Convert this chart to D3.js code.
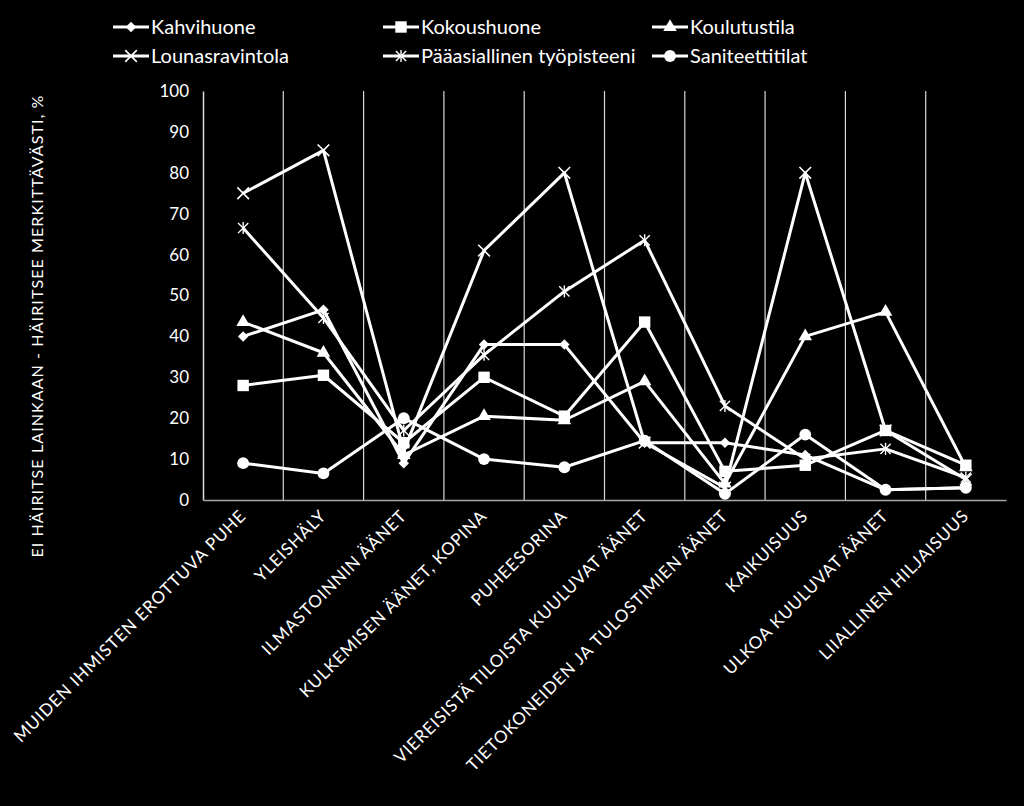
<!DOCTYPE html>
<html><head><meta charset="utf-8">
<script src="https://cdn.jsdelivr.net/npm/d3@7"></script>
<style>
html,body{margin:0;padding:0;background:#000;}
svg{display:block;}
text{font-family:"Lato","Open Sans",sans-serif;fill:#fff;}
</style></head>
<body>
<svg id="c" width="1024" height="806"></svg>
<script>
const categories = ["MUIDEN IHMISTEN EROTTUVA PUHE","YLEISHÄLY","ILMASTOINNIN ÄÄNET","KULKEMISEN ÄÄNET, KOPINA","PUHEESORINA","VIEREISISTÄ TILOISTA KUULUVAT ÄÄNET","TIETOKONEIDEN JA TULOSTIMIEN ÄÄNET","KAIKUISUUS","ULKOA KUULUVAT ÄÄNET","LIIALLINEN HILJAISUUS"];
const seriesNames = ["Kahvihuone","Kokoushuone","Koulutustila","Lounasravintola","Pääasiallinen työpisteeni","Saniteettitilat"];
const kahvihuone = [40, 46.5, 9, 38, 38, 14, 14, 11, 2.5, 3];
const kokoushuone = [28, 30.5, 14, 30, 20.5, 43.5, 7, 8.5, 17, 8.5];
const koulutustila = [43.5, 36, 11, 20.5, 19.5, 29, 4, 40, 46, 8];
const lounasravintola = [75, 85.5, 12, 61, 80, 14, 3, 80, 17, 5];
const tyopiste = [66.5, 44.5, 17, 35.5, 51, 63.5, 23, 10, 12.5, 5.5];
const saniteettitilat = [9, 6.5, 20, 10, 8, 14.5, 1.5, 16, 2.5, 3];
const yTicks = [0,10,20,30,40,50,60,70,80,90,100];
const yTitle = "EI HÄIRITSE LAINKAAN - HÄIRITSEE MERKITTÄVÄSTI, %";

const seriesValues = [kahvihuone, kokoushuone, koulutustila, lounasravintola, tyopiste, saniteettitilat];
const markerTypes = ["diamond","square","triangle","x","asterisk","circle"];

const svg = d3.select("#c");
const L = 203, R = 1006, T = 91, B = 500;
const x = d3.scaleBand().domain(categories).range([L, R]);
const y = d3.scaleLinear().domain([0,100]).range([B, T]);

// vertical gridlines between categories
const gridG = svg.append("g");
categories.slice(1).forEach(c => {
  gridG.append("line").attr("x1", x(c)).attr("x2", x(c)).attr("y1", T).attr("y2", B)
    .attr("stroke", "#d9d9d9").attr("stroke-width", 1.2);
});
// y axis
const yAxis = d3.axisLeft(y).tickValues(yTicks).tickSize(0).tickPadding(14);
const yg = svg.append("g").attr("transform", `translate(${L},0)`).call(yAxis);
yg.select(".domain").attr("stroke", "#d9d9d9").attr("stroke-width", 1.5);
yg.selectAll("text").style("font-size", "17px").attr("fill", "#fff");

// x axis
const xAxis = d3.axisBottom(x).tickSize(0).tickFormat("");
const xg = svg.append("g").attr("transform", `translate(0,${B})`).call(xAxis);
xg.select(".domain").attr("stroke", "#a6a6a6").attr("stroke-width", 1.5);

// x labels rotated
svg.append("g").selectAll("text").data(categories).join("text")
  .attr("transform", d => `translate(${x(d) + x.bandwidth()/2 + 4},${B + 17}) rotate(-45)`)
  .attr("text-anchor", "end")
  .style("font-size", "17px")
  .style("letter-spacing", "0.85px")
  .text(d => d);

// y title
svg.append("text")
  .attr("transform", `translate(43,${(92+560)/2}) rotate(-90)`)
  .attr("text-anchor", "middle")
  .style("font-size", "16px")
  .style("letter-spacing", "1.1px")
  .text(yTitle);

function drawMarker(g, type, cx, cy) {
  if (type === "diamond") {
    g.append("path").attr("d", d3.symbol(d3.symbolDiamond2, 70)()).attr("transform", `translate(${cx},${cy})`).attr("fill", "#fff");
  } else if (type === "square") {
    g.append("path").attr("d", d3.symbol(d3.symbolSquare, 130)()).attr("transform", `translate(${cx},${cy})`).attr("fill", "#fff");
  } else if (type === "triangle") {
    g.append("path").attr("d", d3.symbol(d3.symbolTriangle, 80)()).attr("transform", `translate(${cx},${cy})`).attr("fill", "#fff");
  } else if (type === "circle") {
    g.append("path").attr("d", d3.symbol(d3.symbolCircle, 110)()).attr("transform", `translate(${cx},${cy})`).attr("fill", "#fff");
  } else if (type === "x") {
    g.append("path").attr("d", d3.symbol(d3.symbolX, 90)()).attr("transform", `translate(${cx},${cy})`)
      .attr("fill", "none").attr("stroke", "#fff").attr("stroke-width", 1.6);
  } else if (type === "asterisk") {
    g.append("path").attr("d", d3.symbol(d3.symbolX, 70)()).attr("transform", `translate(${cx},${cy})`)
      .attr("fill", "none").attr("stroke", "#fff").attr("stroke-width", 1.4);
    g.append("line").attr("x1", cx).attr("x2", cx).attr("y1", cy-6).attr("y2", cy+6)
      .attr("stroke", "#fff").attr("stroke-width", 1.4);
  }
}

const line = d3.line().x((d,i) => x(categories[i]) + x.bandwidth()/2).y(d => y(d));
const plotG = svg.append("g");
seriesValues.forEach((vals) => {
  plotG.append("path").datum(vals).attr("d", line)
    .attr("fill", "none").attr("stroke", "#fff").attr("stroke-width", 3).attr("stroke-linejoin", "round");
});
seriesValues.forEach((vals, si) => {
  const g = plotG.append("g");
  vals.forEach((v, i) => drawMarker(g, markerTypes[si], x(categories[i]) + x.bandwidth()/2, y(v)));
});

// legend
const legendPos = [[113,27],[383,27],[652,27],[113,56],[383,56],[652,56]];
seriesNames.forEach((n, i) => {
  const [lx, ly] = legendPos[i];
  const g = svg.append("g");
  g.append("line").attr("x1", lx).attr("x2", lx+36).attr("y1", ly).attr("y2", ly)
    .attr("stroke", "#fff").attr("stroke-width", 3);
  drawMarker(g, markerTypes[i], lx+18, ly);
  g.append("text").attr("x", lx+38).attr("y", ly+7).style("font-size", "20px").text(n);
});
</script>
</body></html>
